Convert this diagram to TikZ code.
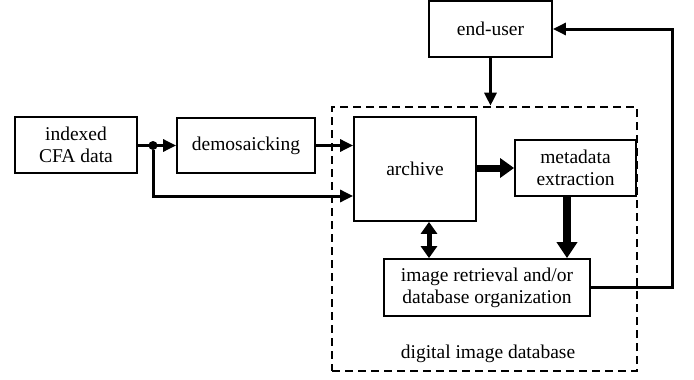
\documentclass[tikz,border=0pt]{standalone}
\usepackage{fontspec}
\setmainfont{Liberation Serif}
\usetikzlibrary{arrows.meta,calc}
\begin{document}
\begin{tikzpicture}[x=1pt,y=-1pt,
  blk/.style={draw,line width=1.8pt,align=center,inner sep=0pt,
    font=\fontsize{19.5}{22}\selectfont},
  thinarrow/.style={line width=3pt,-{Triangle[length=13pt,width=12pt]}},
  boldarrow/.style={line width=7pt,-{Triangle[length=14pt,width=19pt]}},
  widearrow/.style={line width=8.5pt,-{Triangle[length=16pt,width=20pt]}},
  twoway/.style={line width=5pt,{Triangle[length=12pt,width=16pt]}-{Triangle[length=12pt,width=16pt]}},
  region/.style={draw,line width=2.6pt,dash pattern=on 8pt off 5pt,inner sep=0pt}]
\useasboundingbox (0,0) rectangle (694,380);

% processing blocks
\node[blk,minimum width=122pt,minimum height=56pt] (cfa) at (76,145) {indexed\\CFA data};
\node[blk,minimum width=138pt,minimum height=55pt] (demo) at (246,145.5) {demosaicking};
\node[region,minimum width=305pt,minimum height=264pt] (db) at (484.5,239) {};
\node[blk,minimum width=122pt,minimum height=104pt] (arch) at (415,169) {archive};
\node[blk,minimum width=123pt,minimum height=56pt] (eu) at (490.5,29) {end-user};
\node[blk,minimum width=121pt,minimum height=56pt] (meta) at (575.5,168) {metadata\\extraction};
\node[blk,minimum width=206pt,minimum height=57pt] (ret) at (487,287.5) {image retrieval and/or\\database organization};
\node[font=\fontsize{19.5}{22}\selectfont] (dblabel) at (488,354) {digital image database};

% branching point after the CFA data
\node[circle,fill,inner sep=0pt,minimum size=9pt] (dot) at (153,145.5) {};
\coordinate (archlow) at ($(arch.west)+(0,27)$);

% ends of the vertical links inside the database
\coordinate (metaout) at ($(meta.south)+(-8.5,0)$);
\coordinate (retin) at (metaout |- ret.north);
\coordinate (archout) at ($(arch.south)+(14,0)$);
\coordinate (retlink) at (archout |- ret.north);

% connectors
\draw[thinarrow] (cfa.east |- dot) -- (demo.west |- dot);
\draw[thinarrow] (dot) |- (archlow);
\draw[thinarrow] (demo.east) -- (demo.east -| arch.west);
\draw[thinarrow] (eu.south) -- (eu.south |- db.north);
\draw[boldarrow] (arch.east |- meta.west) -- (meta.west);
\draw[widearrow] (metaout) -- (retin);
\draw[twoway] (archout) -- (retlink);
\draw[thinarrow] (ret.east) -- ++(82,0) |- (eu.east);
\end{tikzpicture}
\end{document}
